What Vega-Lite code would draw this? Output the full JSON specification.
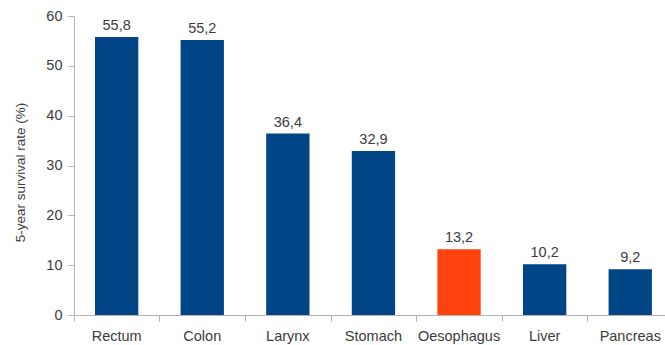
{
  "$schema": "https://vega.github.io/schema/vega-lite/v6.json",
  "width": 591,
  "height": 299,
  "autosize": {"type": "none"},
  "padding": {"left": 74, "top": 16, "right": 0, "bottom": 30},
  "background": "white",
  "config": {
    "view": {"stroke": null},
    "font": "Liberation Sans",
    "locale": {
      "number": {"decimal": ",", "thousands": ".", "grouping": [3], "currency": ["", " €"]}
    },
    "axis": {
      "domainColor": "#b3b3b3",
      "tickColor": "#b3b3b3",
      "labelColor": "#3c3c3c",
      "labelFont": "Liberation Sans",
      "labelFontSize": 14.5,
      "grid": false
    }
  },
  "data": {
    "values": [
      {"site": "Rectum", "rate": 55.8},
      {"site": "Colon", "rate": 55.2},
      {"site": "Larynx", "rate": 36.4},
      {"site": "Stomach", "rate": 32.9},
      {"site": "Oesophagus", "rate": 13.2},
      {"site": "Liver", "rate": 10.2},
      {"site": "Pancreas", "rate": 9.2}
    ]
  },
  "encoding": {
    "y": {
      "field": "rate",
      "type": "quantitative",
      "scale": {"domain": [0, 60]},
      "axis": {
        "values": [0, 10, 20, 30, 40, 50, 60],
        "title": "5-year survival rate (%)",
        "titleFont": "Liberation Sans",
        "titleFontSize": 13.5,
        "titleFontWeight": "normal",
        "titleColor": "#3c3c3c",
        "titleAngle": 270,
        "titleBaseline": "middle",
        "titleX": -54,
        "titleY": 156,
        "tickSize": 6,
        "labelPadding": 6
      }
    }
  },
  "layer": [
    {
      "mark": {"type": "bar"},
      "encoding": {
        "x": {
          "field": "site",
          "type": "nominal",
          "sort": null,
          "scale": {"paddingInner": 0.494, "paddingOuter": 0.199, "align": 0.616},
          "axis": {
            "orient": "bottom",
            "title": null,
            "labelAngle": 0,
            "ticks": false,
            "labelPadding": 14
          }
        },
        "color": {
          "condition": {"test": "datum.site === 'Oesophagus'", "value": "#ff420e"},
          "value": "#004586"
        }
      }
    },
    {
      "mark": {"type": "text", "baseline": "alphabetic", "dy": -7, "fontSize": 14.5, "color": "#3c3c3c", "font": "Liberation Sans"},
      "encoding": {
        "x": {
          "field": "site",
          "type": "nominal",
          "sort": null,
          "axis": {
            "orient": "bottom",
            "title": null,
            "labels": false,
            "domain": false,
            "ticks": true,
            "tickSize": 6,
            "bandPosition": 0,
            "tickOffset": -21.15
          }
        },
        "text": {"field": "rate", "type": "quantitative", "format": ".1f"}
      }
    }
  ],
  "resolve": {"axis": {"x": "independent"}}
}
